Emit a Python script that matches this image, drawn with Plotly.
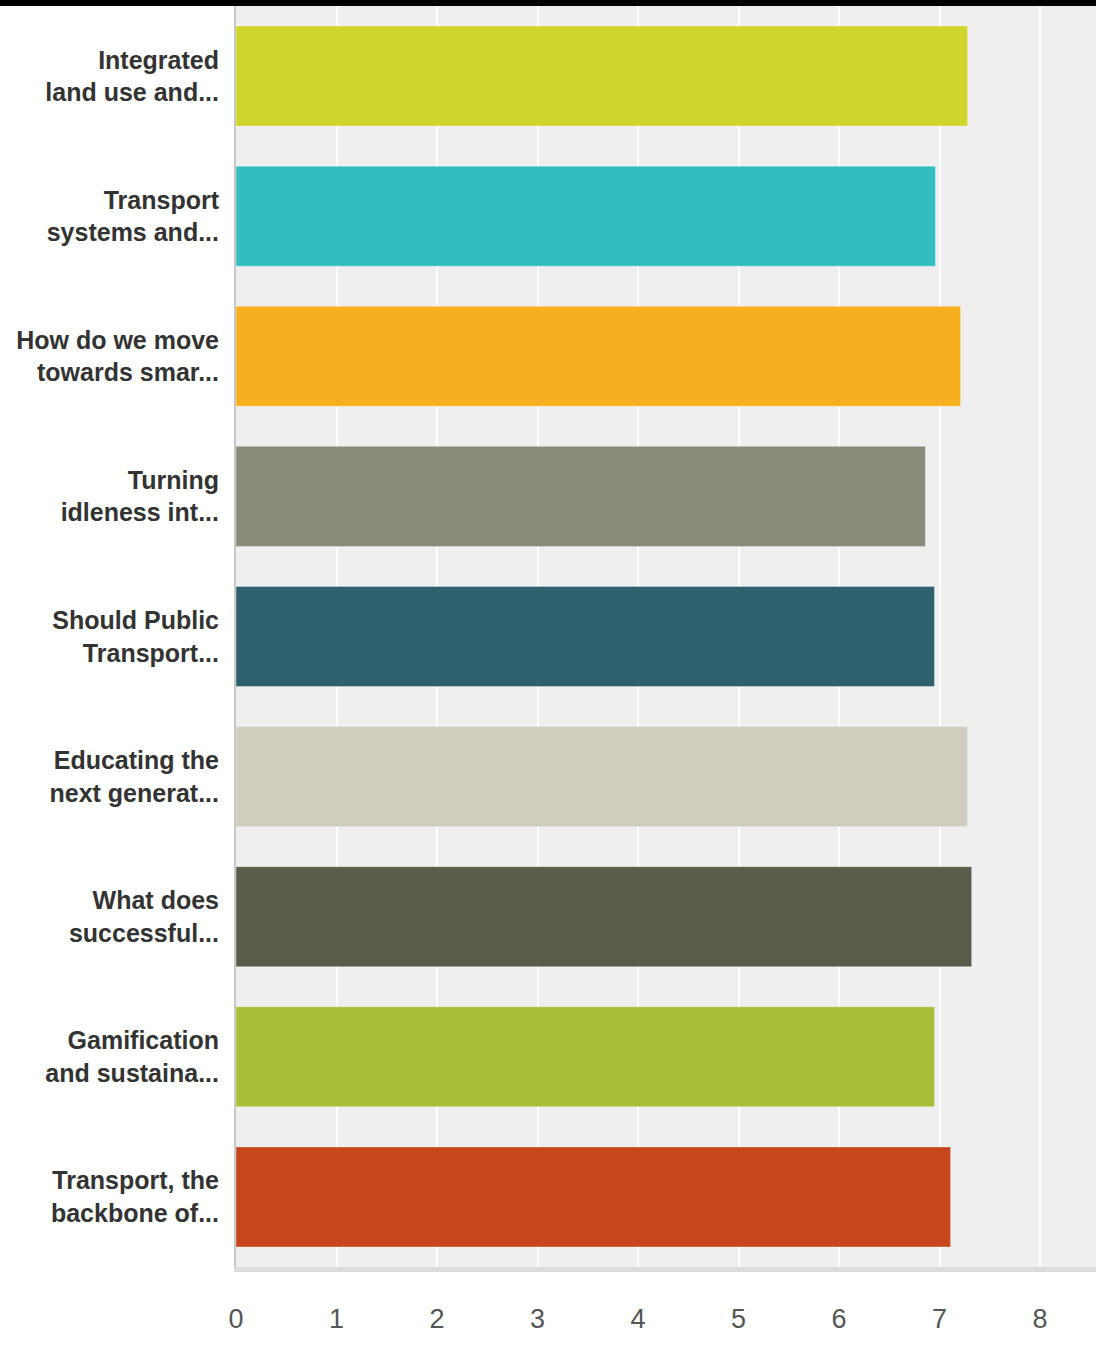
import plotly.graph_objects as go

categories = [
    "Integrated<br>land use and...",
    "Transport<br>systems and...",
    "How do we move<br>towards smar...",
    "Turning<br>idleness int...",
    "Should Public<br>Transport...",
    "Educating the<br>next generat...",
    "What does<br>successful...",
    "Gamification<br>and sustaina...",
    "Transport, the<br>backbone of...",
]
values = [7.28, 6.96, 7.21, 6.86, 6.95, 7.28, 7.32, 6.95, 7.11]
colors = ["#cfd52a", "#34bdbf", "#f6b01f", "#898a79", "#2e606d",
          "#cfcdbe", "#5b5b4c", "#a8bd3a", "#c6461d"]
x_ticks = [0, 1, 2, 3, 4, 5, 6, 7, 8]

W, H = 1096, 1351
ML, MR, MT, MB = 236, 0, 6, 84
pw, ph = W - ML - MR, H - MT - MB

fig = go.Figure(go.Bar(
    y=categories, x=values, orientation="h",
    marker=dict(color=colors, line=dict(color="rgba(255,255,255,0.35)", width=1)),
    hoverinfo="skip",
))

fig.update_layout(
    width=W, height=H,
    margin=dict(l=ML, r=MR, t=MT, b=MB, pad=0, autoexpand=False),
    paper_bgcolor="white", plot_bgcolor="#efefef",
    bargap=0.2857, showlegend=False,
    shapes=[dict(type="rect", xref="paper", yref="paper",
                 x0=-ML / pw, x1=1 + MR / pw, y0=1, y1=1 + MT / ph + 0.01,
                 fillcolor="black", line=dict(width=0), layer="above")],
)
fig.update_xaxes(
    range=[0, pw / 100.5], tickvals=x_ticks, ticktext=[str(t) for t in x_ticks],
    showgrid=True, gridcolor="white", gridwidth=2, zeroline=False,
    showline=True, linecolor="#dcdcdc", linewidth=5, automargin=False,
    tickfont=dict(family="Liberation Sans, Arial, sans-serif",
                  size=27, color="#555555"),
    ticks="", ticklabelstandoff=24,
)
fig.update_yaxes(
    autorange="reversed", showgrid=False, zeroline=False, automargin=False,
    showline=True, linecolor="#c8c8c8", linewidth=2,
    tickfont=dict(family="Liberation Sans, Arial, sans-serif",
                  size=25, color="#333333", weight="bold"),
    ticks="", ticklabelstandoff=10,
)

fig.write_html("out.html")
